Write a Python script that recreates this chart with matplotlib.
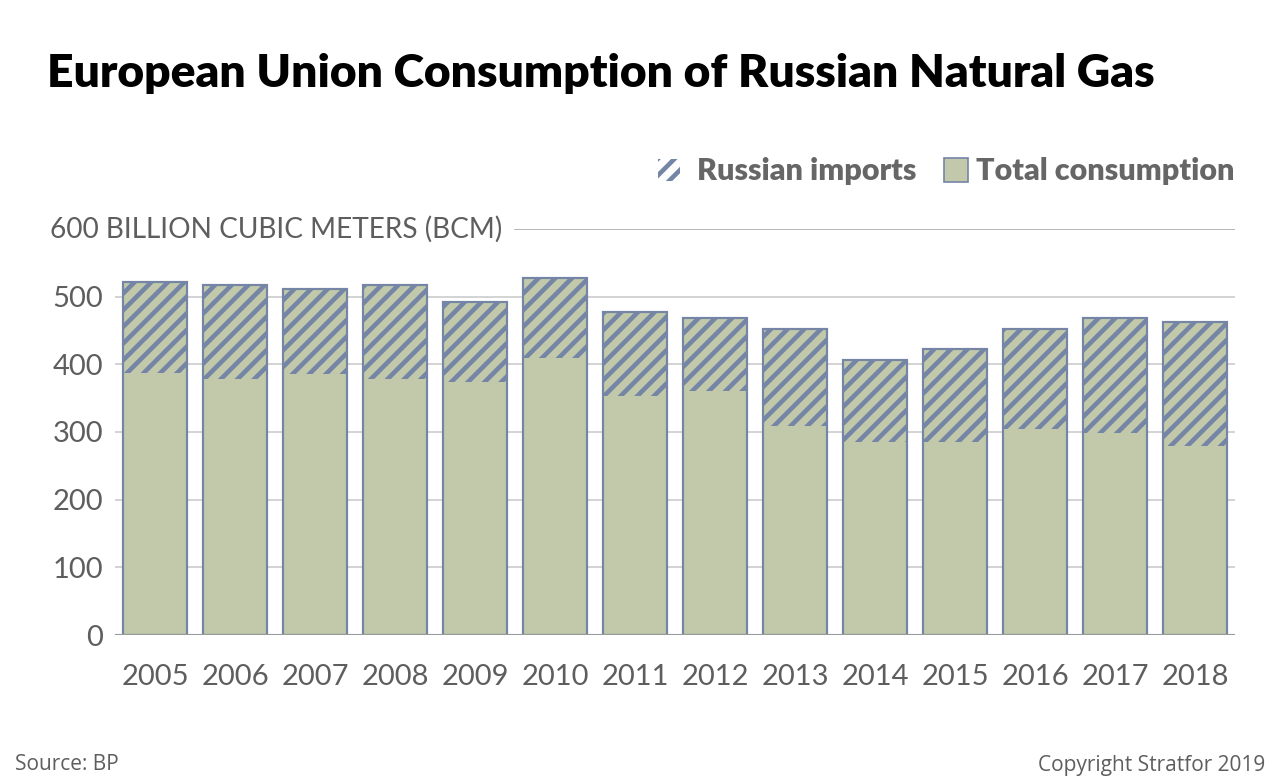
import matplotlib
matplotlib.use("Agg")
import matplotlib.pyplot as plt
import matplotlib.transforms as mtransforms
from matplotlib.patches import Rectangle

years = ["2005", "2006", "2007", "2008", "2009", "2010", "2011",
         "2012", "2013", "2014", "2015", "2016", "2017", "2018"]
total_consumption = [522, 517, 512, 517, 492, 527, 478, 468, 452, 407, 422, 452, 468, 463]
russian_imports = [135, 138, 127, 138, 118, 118, 125, 108, 143, 122, 137, 147, 169, 183]
y_ticks = [0, 100, 200, 300, 400, 500]
y_label = "600 BILLION CUBIC METERS (BCM)"

GREEN = "#c2c9aa"
BLUE = "#7585a6"
GRAY = "#5e5e5e"
GRID = "#cccccc"

plt.rcParams["hatch.linewidth"] = 3.3
plt.rcParams["hatch.color"] = BLUE

fig = plt.figure(figsize=(12.8, 7.84), dpi=100)
ax = fig.add_axes([115 / 1280, 1 - 635 / 784, 1120 / 1280, (635 - 229) / 784])

x = list(range(len(years)))
width = 0.8
ax.bar(x, total_consumption, width=width, color=GREEN, edgecolor=BLUE, linewidth=1.5, zorder=3)
bottoms = [t - r for t, r in zip(total_consumption, russian_imports)]
ax.bar(x, russian_imports, bottom=bottoms, width=width, facecolor="none",
       edgecolor=BLUE, hatch="//", linewidth=0, zorder=4)
ax.bar(x, total_consumption, width=width, facecolor="none", edgecolor=BLUE, linewidth=1.5, zorder=5)

ax.set_xlim(-0.5, len(years) - 0.5)
ax.set_ylim(0, 600)
ax.set_yticks(y_ticks)
ax.set_yticklabels([str(v) for v in y_ticks])
ax.set_xticks(x)
ax.set_xticklabels(years)
for s in ax.spines.values():
    s.set_visible(False)
ax.tick_params(axis="y", length=0, pad=8.5, labelsize=21, labelcolor=GRAY)
ax.tick_params(axis="x", length=0, pad=21, labelsize=21, labelcolor=GRAY)
for v in y_ticks[1:]:
    ax.axhline(v, color=GRID, linewidth=1.2, zorder=1)
ax.axhline(0, color="#999999", linewidth=1.5, zorder=6)
ax.axhline(600, xmin=0.357, xmax=1, color="#aaaaaa", linewidth=1.2, zorder=1)

trans = mtransforms.blended_transform_factory(fig.transFigure, ax.transData)
ax.text(50 / 1280, 600, y_label, transform=trans, ha="left", va="center",
        fontsize=20.2, color=GRAY, family="Lato")

for t in ax.get_xticklabels() + ax.get_yticklabels():
    t.set_family("Lato")

fig.text(47 / 1280, 1 - 73 / 784, "European Union Consumption of Russian Natural Gas",
         fontsize=33.3, fontweight="heavy", family="Lato", color="black", va="center", ha="left")

# legend
fig.text(1235 / 1280, 1 - 171 / 784, "Total consumption", fontsize=22, fontweight="heavy",
         family="Lato", color="#666666", ha="right", va="center")
fig.text(916 / 1280, 1 - 171 / 784, "Russian imports", fontsize=22, fontweight="heavy",
         family="Lato", color="#666666", ha="right", va="center")
fig.patches.append(Rectangle((944 / 1280, 1 - 182 / 784), 24 / 1280, 24 / 784,
                             transform=fig.transFigure, facecolor=GREEN, edgecolor=BLUE,
                             linewidth=1.2))
fig.patches.append(Rectangle((658 / 1280, 1 - 181 / 784), 22 / 1280, 22 / 784,
                             transform=fig.transFigure, facecolor="none", edgecolor=BLUE,
                             hatch="//", linewidth=0))

fig.text(15 / 1280, 1 - 765 / 784, "Source: BP", fontsize=15, family="Open Sans",
         color=GRAY, ha="left", va="center")
fig.text(1265 / 1280, 1 - 765 / 784, "Copyright Stratfor 2019", fontsize=15, family="Open Sans",
         color=GRAY, ha="right", va="center")

fig.savefig("out.png", dpi=100, facecolor="white")
